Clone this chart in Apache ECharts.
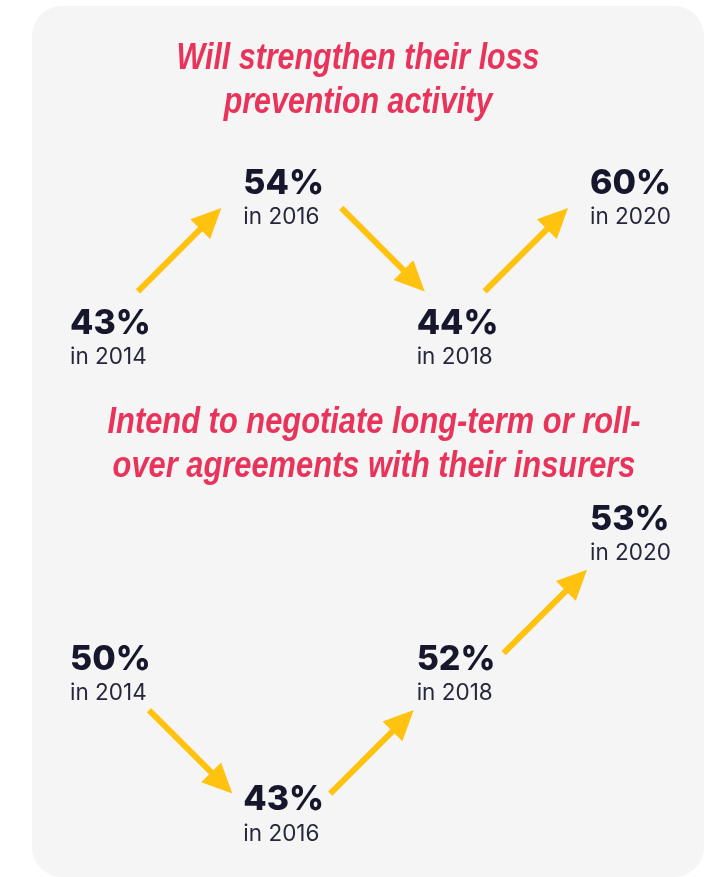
<!DOCTYPE html>
<html>
<head>
<meta charset="utf-8">
<script src="https://cdn.jsdelivr.net/npm/echarts@6/dist/echarts.min.js"></script>
<style>
  html, body {
    margin: 0;
    padding: 0;
    background: #ffffff;
  }
  #chart {
    width: 715px;
    height: 877px;
  }
</style>
</head>
<body>
<div id="chart"></div>
<script>
  var years = ['2014', '2016', '2018', '2020'];
  var lossPrevention = [43, 54, 44, 60];
  var rollover = [50, 43, 52, 53];
  var titleLoss = 'Will strengthen their loss\nprevention activity';
  var titleRollover = 'Intend to negotiate long-term or roll-\nover agreements with their insurers';

  var pink = '#e8345b';
  var navy = '#16162c';
  var yellow = '#fec20f';
  var titleFont = '"Liberation Sans", Arial, sans-serif';
  var numFont = 'Inter, "Noto Sans", sans-serif';

  // each survey sits one step above / below the previous one
  function stepLevels(vals) {
    var lv = [0];
    for (var i = 1; i < vals.length; i++) {
      lv.push(lv[i - 1] + (vals[i] > vals[i - 1] ? 1 : -1));
    }
    var low = Math.min.apply(null, lv);
    return lv.map(function (v) { return v - low; });
  }

  // squeeze the title so the first line has the wanted width (condensed look)
  var measureCtx = document.createElement('canvas').getContext('2d');
  function fitScale(text, target) {
    measureCtx.font = 'italic bold 37px ' + titleFont;
    return target / measureCtx.measureText(text.split('\n')[0]).width;
  }

  function labelSeries(vals, idx) {
    var lv = stepLevels(vals);
    return {
      type: 'custom',
      xAxisIndex: idx,
      yAxisIndex: idx,
      data: vals.map(function (v, i) { return [i, lv[i], v]; }),
      renderItem: function (params, api) {
        var i = api.value(0);
        var p = api.coord([i, api.value(1)]);
        return {
          type: 'group',
          children: [{
            type: 'text',
            x: p[0],
            y: p[1] - 5,
            style: {
              text: api.value(2) + '%',
              fill: navy,
              fontFamily: numFont,
              fontWeight: 800,
              fontSize: 34,
              lineHeight: 34,
              align: 'left',
              verticalAlign: 'top'
            }
          }, {
            type: 'text',
            x: p[0],
            y: p[1] + 35,
            style: {
              text: 'in ' + years[i],
              fill: '#26263c',
              fontFamily: numFont,
              fontWeight: 'normal',
              fontSize: 22.5,
              lineHeight: 22,
              align: 'left',
              verticalAlign: 'top'
            }
          }]
        };
      }
    };
  }

  function arrowSeries(vals, idx, shift) {
    var lv = stepLevels(vals);
    var segs = [];
    for (var i = 0; i < vals.length - 1; i++) {
      segs.push([i, lv[i], i + 1, lv[i + 1]]);
    }
    return {
      type: 'custom',
      xAxisIndex: idx,
      yAxisIndex: idx,
      encode: { x: [0, 2], y: [1, 3] },
      data: segs,
      renderItem: function (params, api) {
        var a = api.coord([api.value(0), api.value(1)]);
        var b = api.coord([api.value(2), api.value(3)]);
        var up = api.value(3) > api.value(1);
        // middle between the two label blocks
        var mx = (a[0] + b[0]) / 2 + 38 + (up ? -shift.x : shift.x);
        var my = (a[1] + b[1]) / 2 + 26 + shift.y;
        var dx = Math.SQRT1_2, dy = up ? -Math.SQRT1_2 : Math.SQRT1_2;
        var half = 59, head = 30, hw = 14;
        var tail = [mx - dx * half, my - dy * half];
        var tip = [mx + dx * half, my + dy * half];
        var base = [tip[0] - dx * head, tip[1] - dy * head];
        return {
          type: 'group',
          children: [{
            type: 'line',
            shape: { x1: tail[0], y1: tail[1], x2: base[0] + dx * 2, y2: base[1] + dy * 2 },
            style: { stroke: yellow, lineWidth: 6 }
          }, {
            type: 'polygon',
            shape: {
              points: [tip,
                [base[0] - dy * hw, base[1] + dx * hw],
                [base[0] + dy * hw, base[1] - dx * hw]]
            },
            style: { fill: yellow }
          }]
        };
      }
    };
  }

  var chart = echarts.init(document.getElementById('chart'));

  var option = {
    animation: false,
    graphic: [{
      type: 'rect',
      z: -10,
      shape: { x: 32, y: 6, width: 672, height: 871, r: 30 },
      style: { fill: '#f5f5f5' }
    }, {
      type: 'text',
      x: 358,
      y: 37,
      scaleX: fitScale(titleLoss, 363),
      style: {
        text: titleLoss,
        fill: pink,
        fontFamily: titleFont,
        fontStyle: 'italic',
        fontWeight: 'bold',
        fontSize: 37,
        lineHeight: 44,
        align: 'center',
        verticalAlign: 'top'
      }
    }, {
      type: 'text',
      x: 374,
      y: 401,
      scaleX: fitScale(titleRollover, 533),
      style: {
        text: titleRollover,
        fill: pink,
        fontFamily: titleFont,
        fontStyle: 'italic',
        fontWeight: 'bold',
        fontSize: 37,
        lineHeight: 44,
        align: 'center',
        verticalAlign: 'top'
      }
    }],
    grid: [
      { left: 70, width: 520, top: 171.7, height: 140 },
      { left: 70, width: 520, top: 507.3, height: 280.7 }
    ],
    xAxis: [
      { gridIndex: 0, type: 'category', data: years, boundaryGap: false, show: false },
      { gridIndex: 1, type: 'category', data: years, boundaryGap: false, show: false }
    ],
    yAxis: [
      { gridIndex: 0, type: 'value', min: 0, max: 1, show: false },
      { gridIndex: 1, type: 'value', min: 0, max: 2, show: false }
    ],
    series: [
      arrowSeries(lossPrevention, 0, { x: 15, y: -18 }),
      labelSeries(lossPrevention, 0),
      arrowSeries(rollover, 1, { x: -4, y: 8 }),
      labelSeries(rollover, 1)
    ]
  };

  chart.setOption(option);
</script>
</body>
</html>
